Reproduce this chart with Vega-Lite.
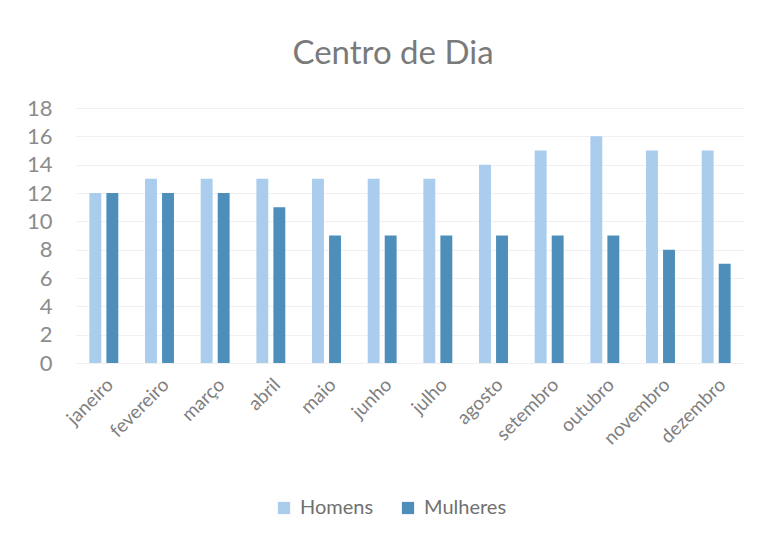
{
  "$schema": "https://vega.github.io/schema/vega-lite/v6.json",
  "width": 668,
  "height": 255,
  "padding": {"left": 26, "top": 38, "right": 21, "bottom": 10},
  "background": "white",
  "config": {"view": {"stroke": null}, "font": "Lato"},
  "title": {"text": "Centro de Dia", "fontSize": 33, "font": "Lato", "fontWeight": "normal", "color": "#7a7a7a", "offset": 26, "dx": -17},
  "data": {"values": [
    {"mes": "janeiro", "sexo": "Homens", "valor": 12},
    {"mes": "janeiro", "sexo": "Mulheres", "valor": 12},
    {"mes": "fevereiro", "sexo": "Homens", "valor": 13},
    {"mes": "fevereiro", "sexo": "Mulheres", "valor": 12},
    {"mes": "março", "sexo": "Homens", "valor": 13},
    {"mes": "março", "sexo": "Mulheres", "valor": 12},
    {"mes": "abril", "sexo": "Homens", "valor": 13},
    {"mes": "abril", "sexo": "Mulheres", "valor": 11},
    {"mes": "maio", "sexo": "Homens", "valor": 13},
    {"mes": "maio", "sexo": "Mulheres", "valor": 9},
    {"mes": "junho", "sexo": "Homens", "valor": 13},
    {"mes": "junho", "sexo": "Mulheres", "valor": 9},
    {"mes": "julho", "sexo": "Homens", "valor": 13},
    {"mes": "julho", "sexo": "Mulheres", "valor": 9},
    {"mes": "agosto", "sexo": "Homens", "valor": 14},
    {"mes": "agosto", "sexo": "Mulheres", "valor": 9},
    {"mes": "setembro", "sexo": "Homens", "valor": 15},
    {"mes": "setembro", "sexo": "Mulheres", "valor": 9},
    {"mes": "outubro", "sexo": "Homens", "valor": 16},
    {"mes": "outubro", "sexo": "Mulheres", "valor": 9},
    {"mes": "novembro", "sexo": "Homens", "valor": 15},
    {"mes": "novembro", "sexo": "Mulheres", "valor": 8},
    {"mes": "dezembro", "sexo": "Homens", "valor": 15},
    {"mes": "dezembro", "sexo": "Mulheres", "valor": 7}
  ]},
  "mark": {"type": "bar"},
  "encoding": {
    "x": {
      "field": "mes", "type": "nominal", "sort": null, "title": null,
      "scale": {"paddingInner": 0.48, "paddingOuter": 0.24},
      "axis": {"labelAngle": -45, "labelFontSize": 19, "labelColor": "#808080", "domain": false, "ticks": false, "labelPadding": 12, "labelDx": -4, "labelFont": "Lato"}
    },
    "xOffset": {"field": "sexo", "type": "nominal", "scale": {"paddingInner": 0.3}},
    "y": {
      "field": "valor", "type": "quantitative", "title": null,
      "scale": {"domain": [0, 18]},
      "axis": {"values": [0, 2, 4, 6, 8, 10, 12, 14, 16, 18], "labelFontSize": 22, "labelColor": "#8c8c8c", "domain": false, "ticks": false, "labelPadding": 24, "gridColor": "#f0f0f0", "labelFont": "Lato"}
    },
    "color": {
      "field": "sexo", "type": "nominal",
      "scale": {"domain": ["Homens", "Mulheres"], "range": ["#aacdee", "#4d8fba"]},
      "legend": {"orient": "none", "legendX": 198, "legendY": 390, "direction": "horizontal", "title": null, "labelFontSize": 20, "labelColor": "#707070", "symbolType": "square", "symbolSize": 150, "labelFont": "Lato", "columnPadding": 24, "labelOffset": 6}
    }
  }
}
